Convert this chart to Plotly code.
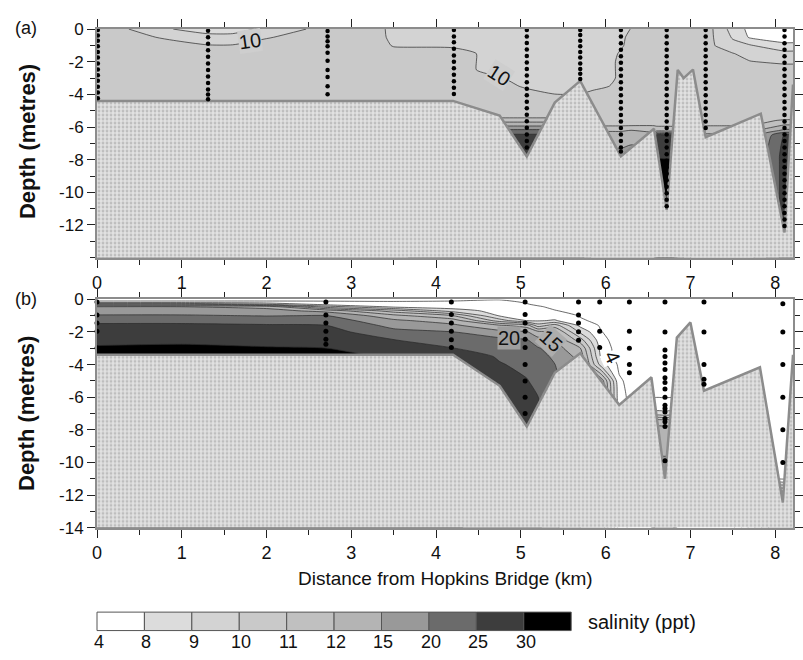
import numpy as np
import plotly.graph_objects as go

# ---------------- data ----------------
LEVELS = [4, 8, 9, 10, 11, 12, 15, 20, 25, 30]
LEVEL_LABELS = ["4", "8", "9", "10", "11", "12", "15", "20", "25", "30"]
# colour of: <4, 4-8, 8-9, 9-10, 10-11, 11-12, 12-15, 15-20, 20-25, 25-30, >30
BAND_COLORS = ["#ffffff", "#ffffff", "#dcdcdc", "#d3d3d3", "#c9c9c9", "#c0c0c0",
               "#b4b4b4", "#999999", "#6b6b6b", "#3d3d3d", "#000000"]

# ---- panel (a): bathymetry
BED_A_X = [0.0, 4.2, 4.75, 5.07, 5.4, 5.7, 6.18, 6.57, 6.72, 6.85, 6.92, 7.03, 7.18, 7.83, 8.11, 8.21]
BED_A_D = [-4.4, -4.4, -5.3, -7.8, -4.5, -3.17, -7.8, -6.1, -11.07, -2.5, -3.0, -2.48, -6.62, -5.18, -12.46, -3.4]

# ---- panel (b): bathymetry
BED_B_X = [0.0, 4.2, 4.75, 5.07, 5.4, 5.7, 6.16, 6.54, 6.70, 6.84, 7.0, 7.16, 7.82, 8.09, 8.21]
BED_B_D = [-3.4, -3.4, -5.3, -7.8, -4.5, -3.3, -6.47, -4.78, -11.0, -2.34, -1.41, -5.6, -4.17, -12.46, -3.4]

# ---- panel (a): salinity (ppt) read at grid nodes; one profile per column
GRID_A_X = [0.0, 0.35, 0.9, 1.3, 1.6, 2.0, 2.5, 3.3, 3.5, 4.2, 4.75, 5.07, 5.4, 5.7, 5.85,
            6.05, 6.18, 6.3, 6.57, 6.6, 6.72, 6.8, 6.85, 7.03, 7.18, 7.3, 7.5, 7.7, 8.11, 8.21]
GRID_A_D = [0, -0.5, -1.0, -1.5, -2.0, -2.5, -3.0, -3.5, -4.0, -4.5,
            -5.3, -5.6, -5.9, -6.2, -6.5, -7.8, -8.1, -14]
SAL_A = [
    [10.5, 10.5, 10.5, 10.5, 10.5, 10.5, 10.5, 10.5, 10.5, 10.5, 10.5, 10.8, 11.5, 13, 16, 22, 24, 24],
    [10.05, 10.5, 10.5, 10.5, 10.5, 10.5, 10.5, 10.5, 10.5, 10.5, 10.5, 10.8, 11.5, 13, 16, 22, 24, 24],
    [9.0, 9.7, 10.5, 10.5, 10.5, 10.5, 10.5, 10.5, 10.5, 10.5, 10.5, 10.8, 11.5, 13, 16, 22, 24, 24],
    [8.5, 9.4, 10.05, 10.5, 10.5, 10.5, 10.5, 10.5, 10.5, 10.5, 10.5, 10.8, 11.5, 13, 16, 22, 24, 24],
    [8.5, 9.4, 10.05, 10.5, 10.5, 10.5, 10.5, 10.5, 10.5, 10.5, 10.5, 10.8, 11.5, 13, 16, 22, 24, 24],
    [9.3, 9.9, 10.5, 10.5, 10.5, 10.5, 10.5, 10.5, 10.5, 10.5, 10.5, 10.8, 11.5, 13, 16, 22, 24, 24],
    [10.05, 10.5, 10.5, 10.5, 10.5, 10.5, 10.5, 10.5, 10.5, 10.5, 10.5, 10.8, 11.5, 13, 16, 22, 24, 24],
    [10.5, 10.5, 10.5, 10.5, 10.5, 10.5, 10.5, 10.5, 10.5, 10.5, 10.5, 10.8, 11.5, 13, 16, 22, 24, 24],
    [9.5, 9.6, 9.9, 10.5, 10.5, 10.5, 10.5, 10.5, 10.5, 10.5, 10.5, 10.8, 11.5, 13, 16, 22, 24, 24],
    [9.4, 9.4, 9.8, 10.5, 10.5, 10.5, 10.5, 10.5, 10.5, 10.5, 10.5, 11.6, 14.5, 21, 26, 28, 28, 28],
    [9.5, 9.5, 9.5, 9.5, 9.5, 9.5, 10.1, 10.5, 10.5, 10.5, 10.5, 11.6, 14.5, 21, 26, 28, 28, 28],
    [9.5, 9.5, 9.5, 9.5, 9.5, 9.5, 9.5, 9.8, 10.5, 10.5, 10.5, 11.6, 14.5, 21, 26, 28, 28, 28],
    [9.5, 9.5, 9.5, 9.5, 9.5, 9.5, 9.5, 9.5, 10.02, 10.5, 10.5, 11.6, 14.5, 21, 26, 28, 28, 28],
    [9.5, 9.5, 9.5, 9.5, 9.5, 9.5, 9.5, 9.6, 10.02, 10.5, 10.5, 11.6, 14.5, 21, 26, 28, 28, 28],
    [9.5, 9.5, 9.5, 9.5, 9.5, 9.5, 9.5, 9.7, 10.3, 10.5, 10.5, 10.8, 10.9, 11.9, 13, 17, 18, 18],
    [9.5, 9.5, 9.5, 9.5, 9.5, 9.5, 9.5, 10.02, 10.5, 10.5, 10.5, 10.8, 10.9, 11.9, 13, 17, 18, 18],
    [9.5, 9.6, 9.8, 10.2, 10.5, 10.5, 10.5, 10.5, 10.5, 10.5, 10.5, 10.8, 10.9, 11.9, 13, 17, 18, 18],
    [10.05, 10.5, 10.5, 10.5, 10.5, 10.5, 10.5, 10.5, 10.5, 10.5, 10.5, 10.8, 10.95, 12.0, 14.0, 17, 18, 18],
    [10.5, 10.5, 10.5, 10.5, 10.5, 10.5, 10.5, 10.5, 10.5, 10.5, 10.5, 10.8, 10.95, 11.8, 13, 17, 18, 18],
    [10.5, 10.5, 10.5, 10.5, 10.5, 10.5, 10.5, 10.5, 10.5, 10.5, 10.5, 10.6, 10.9, 11.5, 25.5, 29.5, 31, 32],
    [10.5, 10.5, 10.5, 10.5, 10.5, 10.5, 10.5, 10.5, 10.5, 10.5, 10.5, 10.6, 10.9, 11.5, 25.5, 29.5, 31, 32],
    [10.5, 10.5, 10.5, 10.5, 10.5, 10.5, 10.5, 10.5, 10.5, 10.5, 10.5, 10.6, 10.9, 11.5, 25.5, 29.5, 31, 32],
    [10.5, 10.5, 10.5, 10.5, 10.5, 10.5, 10.5, 10.5, 10.5, 10.5, 10.5, 10.8, 11.5, 13, 16, 22, 24, 24],
    [10.5, 10.5, 10.5, 10.5, 10.5, 10.5, 10.5, 10.5, 10.5, 10.5, 10.5, 10.7, 10.95, 11.6, 12.5, 14, 14, 14],
    [10.5, 10.5, 10.5, 10.5, 10.5, 10.5, 10.5, 10.5, 10.5, 10.5, 10.5, 10.7, 10.95, 11.6, 12.5, 14, 14, 14],
    [9.8, 9.85, 9.95, 10.5, 10.5, 10.5, 10.5, 10.5, 10.5, 10.5, 10.5, 10.7, 10.95, 11.6, 12.5, 14, 14, 14],
    [8.6, 8.9, 9.3, 10.05, 10.5, 10.5, 10.5, 10.5, 10.5, 10.5, 10.5, 10.7, 10.95, 11.6, 12.5, 14, 14, 14],
    [7.0, 7.6, 9.1, 9.6, 10.05, 10.5, 10.5, 10.5, 10.5, 10.5, 10.5, 10.7, 10.95, 11.6, 12.5, 14, 14, 14],
    [6.5, 7.2, 8.1, 9.4, 9.8, 10.5, 10.5, 10.5, 10.5, 10.5, 10.5, 11.1, 12.3, 16, 25.5, 27, 27, 27],
    [6.5, 7.2, 8.1, 9.4, 9.8, 10.5, 10.5, 10.5, 10.5, 10.5, 10.5, 11.1, 12.3, 16, 25.5, 27, 27, 27],
]

# ---- panel (b): salinity (ppt) read at grid nodes; one profile per column
GRID_B_X = [0.0, 1.0, 2.0, 2.7, 3.5, 4.2, 4.75, 5.07, 5.2, 5.4, 5.7, 5.95, 6.16, 6.3,
            6.54, 6.58, 6.70, 6.80, 6.84, 7.5, 8.0, 8.09, 8.16, 8.21]
GRID_B_D = [0, -0.15, -0.3, -0.45, -0.7, -1.0, -1.3, -1.6, -2.0, -2.5, -3.0, -3.5, -4.0,
            -5.0, -6.0, -7.0, -7.5, -8.0, -9.0, -10.0, -11.0, -12.0, -14.0]
SAL_B = [
    [3.0, 4.5, 10.0, 15.0, 17.5, 20.5, 23.5, 26.0, 27.5, 29.0, 31.0, 32, 32, 32, 32, 32, 32, 32, 32, 32, 32, 32, 32],
    [3.0, 4.5, 10.0, 15.0, 17.5, 20.5, 23.5, 26.0, 27.8, 29.5, 31.0, 32, 32, 32, 32, 32, 32, 32, 32, 32, 32, 32, 32],
    [3.2, 4.4, 9.0, 14.0, 17.0, 19.8, 23.0, 25.5, 27.3, 29.0, 30.5, 31.5, 32, 32, 32, 32, 32, 32, 32, 32, 32, 32, 32],
    [3.5, 4.2, 6.5, 9.5, 14.0, 20.2, 23.0, 25.1, 27.0, 28.5, 30.1, 31.0, 32, 32, 32, 32, 32, 32, 32, 32, 32, 32, 32],
    [3.5, 4.1, 5.5, 7.0, 10.5, 13.0, 16.0, 18.5, 21.5, 25.2, 27.5, 29.8, 31, 31, 31, 31, 31, 31, 31, 31, 31, 31, 31],
    [3.8, 4.1, 5.0, 6.0, 8.5, 11.0, 13.5, 16.0, 20.1, 22.5, 25.1, 28.0, 31, 31, 31, 31, 31, 31, 31, 31, 31, 31, 31],
    [3.9, 4.4, 5.2, 5.8, 6.5, 7.6, 9.5, 12.5, 16.5, 21.5, 23.5, 24.5, 25.3, 27, 28, 28, 28, 28, 28, 28, 28, 28, 28],
    [3.5, 3.8, 4.1, 5.0, 6.0, 7.0, 7.9, 11.5, 15.5, 20.5, 22.0, 23.0, 24.0, 25.2, 27, 28, 28.5, 29, 29, 29, 29, 29, 29],
    [3.0, 3.3, 3.7, 4.2, 5.5, 6.8, 7.6, 9.5, 13.0, 17.0, 20.5, 22.0, 23.0, 24.0, 25.1, 26, 26, 26, 26, 26, 26, 26, 26],
    [2.5, 3.0, 3.3, 3.6, 4.1, 6.0, 8.1, 10.5, 12.5, 15.5, 17.5, 19.0, 20.1, 21, 21, 21, 21, 21, 21, 21, 21, 21, 21],
    [2.5, 2.7, 2.9, 3.1, 3.4, 3.8, 4.4, 7.0, 8.8, 10.5, 12.2, 14, 15, 15, 15, 15, 15, 15, 15, 15, 15, 15, 15],
    [2.2, 2.3, 2.5, 2.6, 2.8, 3.0, 3.2, 3.5, 4.1, 5.0, 6.0, 7.0, 8.5, 14, 15, 15, 15, 15, 15, 15, 15, 15, 15],
    [2.5, 2.5, 2.5, 2.5, 2.5, 2.5, 2.5, 2.5, 2.5, 2.5, 2.5, 2.5, 3.2, 4.5, 5.5, 6, 6, 6, 6, 6, 6, 6, 6],
    [3.0, 3.0, 3.0, 3.0, 3.0, 3.0, 3.0, 3.0, 3.0, 3.0, 3.0, 3.0, 3.0, 3.0, 3.0, 3.0, 3.0, 3.0, 3.0, 3.0, 3.0, 3.0, 3.0],
    [3.0, 3.0, 3.0, 3.0, 3.0, 3.0, 3.0, 3.0, 3.0, 3.0, 3.0, 3.0, 3.0, 3.0, 3.0, 3.0, 3.0, 3.0, 3.0, 3.0, 3.0, 3.0, 3.0],
    [3.0, 3.0, 3.0, 3.0, 3.0, 3.0, 3.0, 3.0, 3.0, 3.0, 3.0, 3.0, 3.0, 3.0, 3.8, 8.2, 11.8, 12.5, 14, 16, 17, 17, 17],
    [3.0, 3.0, 3.0, 3.0, 3.0, 3.0, 3.0, 3.0, 3.0, 3.0, 3.0, 3.0, 3.0, 3.0, 3.8, 8.2, 11.8, 12.5, 14, 16, 17, 17, 17],
    [3.0, 3.0, 3.0, 3.0, 3.0, 3.0, 3.0, 3.0, 3.0, 3.0, 3.0, 3.0, 3.0, 3.0, 3.8, 8.2, 11.8, 12.5, 14, 16, 17, 17, 17],
    [3.0, 3.0, 3.0, 3.0, 3.0, 3.0, 3.0, 3.0, 3.0, 3.0, 3.0, 3.0, 3.0, 3.0, 3.0, 3.0, 3.0, 3.0, 3.0, 3.0, 3.0, 3.0, 3.0],
    [3.0, 3.0, 3.0, 3.0, 3.0, 3.0, 3.0, 3.0, 3.0, 3.0, 3.0, 3.0, 3.0, 3.0, 3.0, 3.0, 3.0, 3.0, 3.0, 3.0, 3.0, 3.0, 3.0],
    [3.0, 3.0, 3.0, 3.0, 3.0, 3.0, 3.0, 3.0, 3.0, 3.0, 3.0, 3.0, 3.0, 3.0, 3.0, 3.0, 3.0, 3.0, 3.0, 3.0, 3.5, 13, 15],
    [3.0, 3.0, 3.0, 3.0, 3.0, 3.0, 3.0, 3.0, 3.0, 3.0, 3.0, 3.0, 3.0, 3.0, 3.0, 3.0, 3.0, 3.0, 3.0, 3.0, 3.5, 13, 15],
    [3.0, 3.0, 3.0, 3.0, 3.0, 3.0, 3.0, 3.0, 3.0, 3.0, 3.0, 3.0, 3.0, 3.0, 3.0, 3.0, 3.0, 3.0, 3.0, 3.0, 3.5, 13, 15],
    [3.0, 3.0, 3.0, 3.0, 3.0, 3.0, 3.0, 3.0, 3.0, 3.0, 3.0, 3.0, 3.0, 3.0, 3.0, 3.0, 3.0, 3.0, 3.0, 3.0, 3.5, 13, 15],
]

# ---- sampling points (CTD casts)
STN_A_X = [0.01, 1.31, 2.72, 4.21, 5.07, 5.70, 6.18, 6.72, 7.18, 8.11]
STN_A_D = [
    [-0.06, -0.39, -0.71, -1.05, -1.4, -1.74, -2.1, -2.48, -2.83, -3.17, -3.53, -3.89, -4.23],
    [-0.1, -0.5, -0.9, -1.3, -1.7, -2.1, -2.5, -2.9, -3.3, -3.7, -4.0, -4.3],
    [-0.12, -0.46, -0.75, -1.05, -1.45, -1.94, -2.5, -2.94, -3.5, -3.99],
    [-0.06, -0.46, -0.81, -1.21, -1.61, -2.0, -2.4, -2.8, -3.19, -3.59, -3.97],
    [-0.05, -0.45, -0.85, -1.25, -1.65, -2.05, -2.45, -2.85, -3.25, -3.65, -4.05, -4.45,
     -4.85, -5.25, -5.65, -6.05, -6.45, -6.85, -7.25],
    [-0.06, -0.36, -0.71, -1.05, -1.41, -1.74, -2.1, -2.44, -2.74, -3.05],
    [-0.06, -0.46, -0.86, -1.26, -1.66, -2.06, -2.46, -2.86, -3.26, -3.66, -4.06, -4.46,
     -4.86, -5.26, -5.66, -6.06, -6.46, -6.86, -7.26, -7.5],
    [-0.06, -0.46, -0.86, -1.26, -1.66, -2.06, -2.46, -2.86, -3.26, -3.66, -4.06, -4.46,
     -4.86, -5.26, -5.66, -6.06, -6.46, -6.86, -7.26, -7.66, -8.06, -8.46, -8.86, -9.26,
     -9.66, -10.06, -10.46, -10.86],
    [-0.06, -0.46, -0.86, -1.26, -1.66, -2.06, -2.46, -2.86, -3.26, -3.66, -4.06, -4.46,
     -4.86, -5.26, -5.66, -6.06],
    [-0.06, -0.46, -0.86, -1.26, -1.66, -2.06, -2.46, -2.86, -3.26, -3.66, -4.06, -4.46,
     -4.86, -5.26, -5.66, -6.06, -6.46, -6.86, -7.26, -7.66, -8.06, -8.46, -8.86, -9.26,
     -9.66, -10.06, -10.46, -10.86, -11.26, -11.66, -12.06],
]
STN_B_X = [0.0, 2.7, 4.18, 5.05, 5.68, 5.93, 6.28, 6.70, 7.16, 8.09]
STN_B_D = [
    [-0.16, -0.95, -1.45, -1.95, -2.98],
    [-0.16, -0.95, -1.45, -1.95, -2.45, -2.75],
    [-0.16, -0.92, -1.45, -1.95, -2.48, -2.95],
    [-0.16, -0.92, -1.45, -1.95, -2.45, -2.95, -4.0, -5.0, -6.0, -7.0],
    [-0.16, -0.96, -1.45, -1.98, -2.5],
    [-0.16, -1.95, -2.95],
    [-0.16, -1.95, -3.0, -4.0, -4.5],
    [-0.16, -2.0, -3.1, -3.5, -3.9, -4.3, -4.8, -5.1, -5.5, -6.0, -6.5, -6.7, -6.9, -7.3,
     -7.5, -7.8, -9.9],
    [-0.16, -2.0, -4.0, -4.9, -5.2],
    [-0.26, -2.0, -4.0, -6.0, -8.0, -10.0],
]

X_TICKS = [0, 1, 2, 3, 4, 5, 6, 7, 8]
Y_TICKS_A = [0, -2, -4, -6, -8, -10, -12]
Y_TICKS_B = [0, -2, -4, -6, -8, -10, -12, -14]
X_RANGE = [0, 8.21]
Y_RANGE = [-14, 0]

# ---------------- figure ----------------
FONT = "Arial, 'Liberation Sans', sans-serif"
W, H = 803, 660
ML = 97
PW = W - ML


def px_x(p):
    return (p - ML) / PW


def px_y(p):
    return 1 - p / H


# map salinity onto band index so that uneven levels become evenly spaced contours
IDX_SRC = [0] + LEVELS + [40]
IDX_DST = list(range(-1, len(LEVELS) + 1))


def band_index(cols):
    arr = np.array(cols, dtype=float).T  # rows = depth
    return np.interp(arr, IDX_SRC, IDX_DST)


colorscale = [[i / 10, c] for i, c in enumerate(BAND_COLORS)]

fig = go.Figure()


def add_panel(gx, gd, sal, bed_x, bed_d, stn_x, stn_d, xa, ya, dot_size):
    z = band_index(sal)
    fig.add_trace(go.Contour(
        x=gx, y=gd[::-1], z=z[::-1],
        xaxis=xa, yaxis=ya,
        contours=dict(start=0, end=len(LEVELS) - 1, size=1, coloring="fill", showlines=True),
        colorscale=colorscale, zmin=-0.5, zmax=len(LEVELS) - 0.5,
        line=dict(color="#2a2a2a", width=0.7, smoothing=0.6),
        showscale=False, hoverinfo="skip",
    ))
    # seabed (stippled)
    fig.add_trace(go.Scatter(
        x=bed_x + [bed_x[-1], bed_x[0]], y=bed_d + [Y_RANGE[0], Y_RANGE[0]],
        xaxis=xa, yaxis=ya, mode="lines", fill="toself",
        line=dict(width=0, color="rgba(0,0,0,0)"),
        fillcolor="#dedede",
        fillpattern=dict(shape=".", fgcolor="#9a9a9a", bgcolor="#e2e2e2", size=4, solidity=0.4),
        hoverinfo="skip", showlegend=False,
    ))
    fig.add_trace(go.Scatter(
        x=bed_x, y=bed_d, xaxis=xa, yaxis=ya, mode="lines",
        line=dict(color="#8c8c8c", width=2.5), hoverinfo="skip", showlegend=False,
    ))
    # sampling points
    sx, sy = [], []
    for x0, ds in zip(stn_x, stn_d):
        sx += [x0] * len(ds)
        sy += ds
    fig.add_trace(go.Scatter(
        x=sx, y=sy, xaxis=xa, yaxis=ya, mode="markers",
        marker=dict(color="black", size=dot_size), cliponaxis=False,
        hoverinfo="skip", showlegend=False,
    ))


add_panel(GRID_A_X, GRID_A_D, SAL_A, BED_A_X, BED_A_D, STN_A_X, STN_A_D, "x", "y", 4.5)
add_panel(GRID_B_X, GRID_B_D, SAL_B, BED_B_X, BED_B_D, STN_B_X, STN_B_D, "x2", "y2", 5)

axis_common = dict(
    showline=True, linecolor="#8c8c8c", linewidth=2, mirror="ticks",
    ticks="outside", ticklen=8, tickwidth=1.3, tickcolor="#222",
    showgrid=False, zeroline=False,
)
xax = dict(axis_common, range=X_RANGE, tickvals=X_TICKS, ticktext=[str(t) for t in X_TICKS],
           tickfont=dict(family=FONT, size=18, color="#111"),
           minor=dict(dtick=0.5, ticks="outside", ticklen=5, tickcolor="#222", tickwidth=1.2))


def yax(ticks, dom):
    return dict(axis_common, range=Y_RANGE, domain=dom, tickvals=ticks,
                ticktext=[str(t) for t in ticks],
                tickfont=dict(family=FONT, size=17, color="#111"),
                minor=dict(dtick=1, ticks="outside", ticklen=5, tickcolor="#222", tickwidth=1.2))


annotations = []
# panel labels and axis titles
for lab, ytop, ymid in [("(a)", 20, 137), ("(b)", 299, 417)]:
    annotations.append(dict(text=lab, x=px_x(12), y=px_y(ytop), xref="paper", yref="paper",
                            xanchor="left", yanchor="middle", showarrow=False,
                            font=dict(family=FONT, size=18, color="#111")))
    annotations.append(dict(text="<b>Depth (metres)</b>", x=px_x(26), y=px_y(ymid),
                            xref="paper", yref="paper", textangle=-90, showarrow=False,
                            xanchor="center", yanchor="middle",
                            font=dict(family=FONT, size=22, color="#111")))
annotations.append(dict(text="Distance from Hopkins Bridge (km)", x=0.5, y=px_y(586),
                        xref="paper", yref="paper", showarrow=False, yanchor="middle",
                        font=dict(family=FONT, size=19, color="#111")))

# contour labels
CLABELS = [
    ("x", "y", 1.81, -0.73, "10", -8, "#cecece"),
    ("x", "y", 4.74, -2.83, "10", 32, "#cecece"),
    ("x2", "y2", 4.86, -2.35, "20", 0, "#9f9f9f"),
    ("x2", "y2", 5.36, -2.54, "15", 42, "#adadad"),
    ("x2", "y2", 6.08, -3.53, "4", 65, "#ffffff"),
]
for xa, ya, cx, cy, t, ang, bg in CLABELS:
    annotations.append(dict(text=t, x=cx, y=cy, xref=xa, yref=ya, showarrow=False,
                            textangle=ang, bgcolor=bg, borderpad=0,
                            font=dict(family=FONT, size=20, color="#111")))

# salinity legend (discrete boxes)
shapes = []
BOX_W = 48.1
for k in range(len(LEVELS)):
    x0 = px_x(ML + k * BOX_W)
    x1 = px_x(ML + (k + 1) * BOX_W)
    shapes.append(dict(type="rect", xref="paper", yref="paper", x0=x0, x1=x1,
                       y0=px_y(640), y1=px_y(621), fillcolor=BAND_COLORS[k + 1],
                       line=dict(color="#555", width=1)))
    annotations.append(dict(text=LEVEL_LABELS[k], x=x0 + 2 / PW, y=px_y(652), xref="paper", yref="paper",
                            showarrow=False, xanchor="center", yanchor="middle",
                            font=dict(family=FONT, size=18, color="#111")))
annotations.append(dict(text="salinity (ppt)", x=px_x(593), y=px_y(631), xref="paper", yref="paper",
                        showarrow=False, xanchor="left", yanchor="middle",
                        font=dict(family=FONT, size=20, color="#111")))

fig.update_layout(
    width=W, height=H,
    margin=dict(l=ML, r=0, t=0, b=0, pad=0),
    paper_bgcolor="white", plot_bgcolor="white",
    showlegend=False,
    xaxis=dict(xax, anchor="y"),
    xaxis2=dict(xax, anchor="y2"),
    yaxis=yax(Y_TICKS_A, [px_y(256), px_y(20.7)]),
    yaxis2=yax(Y_TICKS_B, [px_y(534), px_y(299)]),
    annotations=annotations,
    shapes=shapes,
    font=dict(family=FONT, color="#111"),
)

fig.write_html("out.html")
